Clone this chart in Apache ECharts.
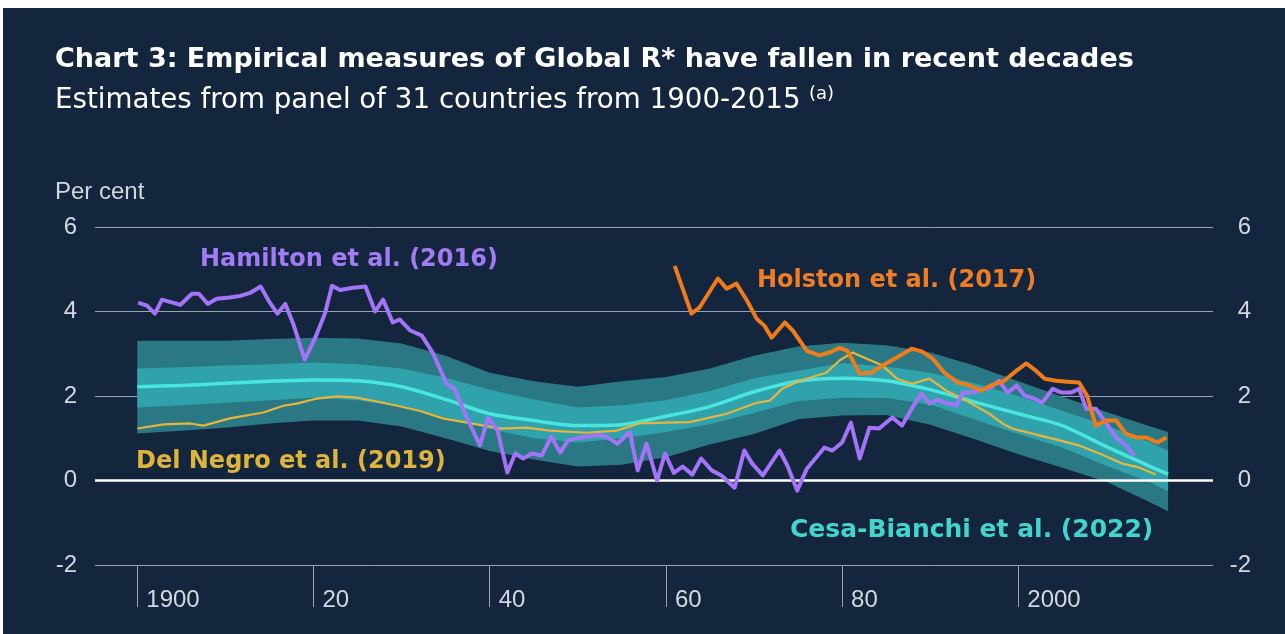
<!DOCTYPE html>
<html>
<head>
<meta charset="utf-8">
<title>Global R* estimates</title>
<script src="https://cdn.jsdelivr.net/npm/echarts@6/dist/echarts.min.js"></script>
<style>
  html, body { margin: 0; padding: 0; background: #fff; }
  #chart { position: absolute; left: 3px; top: 8px; width: 1282px; height: 626px; }
</style>
</head>
<body>
<div id="chart"></div>
<script>
// bottom axis ticks / left+right axis range
var yearTicks = [1900, 1920, 1940, 1960, 1980, 2000];
var yTicks = [-2, 0, 2, 4, 6];

// Cesa-Bianchi et al. (2022): central estimate and two bands
var bandYears = [1900, 1905, 1910, 1915, 1920, 1925, 1930, 1935, 1940, 1945, 1950, 1955, 1960,
  1965, 1970, 1975, 1980, 1985, 1990, 1995, 2000, 2005, 2010, 2015, 2017];
var cesaMid = [2.22, 2.25, 2.3, 2.35, 2.38, 2.36, 2.22, 1.92, 1.58, 1.42, 1.3, 1.32, 1.52,
  1.75, 2.1, 2.35, 2.42, 2.36, 2.15, 1.86, 1.58, 1.3, 0.8, 0.33, 0.15];
var innerHigh = [2.65, 2.68, 2.72, 2.75, 2.79, 2.75, 2.65, 2.43, 2.15, 1.92, 1.73, 1.78, 1.9,
  2.12, 2.42, 2.6, 2.78, 2.7, 2.55, 2.3, 2.0, 1.65, 1.3, 0.9, 0.7];
var innerLow = [1.73, 1.78, 1.84, 1.9, 1.96, 1.9, 1.75, 1.5, 1.22, 1.0, 0.9, 1.0, 1.15,
  1.33, 1.6, 1.88, 1.96, 1.95, 1.8, 1.45, 1.1, 0.78, 0.35, -0.05, -0.25];
var outerHigh = [3.31, 3.31, 3.31, 3.35, 3.38, 3.36, 3.24, 2.95, 2.55, 2.35, 2.22, 2.35, 2.45,
  2.65, 2.95, 3.17, 3.26, 3.2, 3.03, 2.72, 2.35, 1.98, 1.62, 1.28, 1.15];
var outerLow = [1.11, 1.18, 1.25, 1.35, 1.42, 1.42, 1.28, 1.0, 0.7, 0.5, 0.33, 0.37, 0.55,
  0.85, 1.1, 1.45, 1.54, 1.55, 1.32, 0.98, 0.62, 0.3, -0.03, -0.52, -0.73];

// Del Negro et al. (2019)
var delNegro = [[1900, 1.23], [1903, 1.33], [1906, 1.35], [1907.5, 1.3], [1910.5, 1.47], [1914.3, 1.61],
  [1916.6, 1.77], [1918.1, 1.82], [1920.4, 1.94], [1922.7, 1.99], [1924.9, 1.96], [1927.2, 1.87],
  [1929.5, 1.77], [1932, 1.65], [1934.7, 1.47], [1937.4, 1.37], [1941.2, 1.23], [1944.2, 1.25],
  [1946.8, 1.18], [1951, 1.13], [1954.4, 1.18], [1957, 1.35], [1960, 1.37], [1962.7, 1.38],
  [1966.9, 1.58], [1970.3, 1.84], [1971.8, 1.89], [1973.2, 2.17], [1975.2, 2.36], [1978.2, 2.55],
  [1979.7, 2.84], [1981.2, 3.03], [1982.8, 2.88], [1984.6, 2.72], [1986.2, 2.41], [1988, 2.29],
  [1989.9, 2.41], [1991.8, 2.13], [1994.1, 1.89], [1996.7, 1.58], [1998.2, 1.35], [1999.3, 1.23],
  [2001.6, 1.11], [2003.9, 0.99], [2006.9, 0.83], [2009.2, 0.64], [2011.8, 0.4], [2013.7, 0.31],
  [2015.6, 0.14]];

// Hamilton et al. (2016)
var hamilton = [[1900.1, 4.21], [1901.1, 4.14], [1902, 3.95], [1902.8, 4.28], [1904, 4.21], [1904.9, 4.16],
  [1906.2, 4.42], [1907, 4.42], [1908, 4.18], [1909, 4.3], [1910.5, 4.33], [1911.7, 4.37], [1912.8, 4.44],
  [1914, 4.59], [1914.9, 4.26], [1915.9, 3.95], [1916.8, 4.18], [1917.7, 3.71], [1919, 2.86], [1920.2, 3.38],
  [1921.3, 3.95], [1922.1, 4.61], [1923, 4.51], [1924.5, 4.56], [1925.9, 4.59], [1927, 4.0], [1927.9, 4.28],
  [1929, 3.74], [1929.8, 3.81], [1931, 3.55], [1932.3, 3.43], [1933.6, 3.0], [1935.1, 2.29], [1936, 2.17],
  [1937.4, 1.49], [1938.9, 0.83], [1939.8, 1.49], [1940.9, 1.18], [1942, 0.19], [1942.9, 0.64], [1943.8, 0.52],
  [1944.8, 0.64], [1945.9, 0.59], [1947, 1.04], [1948, 0.66], [1948.9, 0.95], [1950.2, 1.02], [1951.5, 1.05],
  [1952.5, 1.08], [1953.4, 1.02], [1954.5, 0.87], [1955.9, 1.15], [1956.8, 0.24], [1957.8, 0.87], [1959, 0.0],
  [1959.9, 0.64], [1960.9, 0.18], [1961.9, 0.33], [1963, 0.14], [1964, 0.52], [1965.2, 0.24], [1966.3, 0.12],
  [1967.8, -0.17], [1968.9, 0.71], [1969.8, 0.4], [1971, 0.12], [1972.9, 0.71], [1973.8, 0.35], [1974.9, -0.24],
  [1976, 0.28], [1978, 0.78], [1978.9, 0.71], [1980, 0.9], [1981, 1.37], [1982, 0.52], [1983.1, 1.25],
  [1984.2, 1.23], [1985.7, 1.49], [1986.8, 1.3], [1987.9, 1.7], [1989, 2.06], [1989.9, 1.82], [1990.8, 1.91],
  [1991.8, 1.84], [1993, 1.77], [1993.7, 2.08], [1994.8, 2.08], [1995.9, 2.15], [1996.9, 2.2], [1997.8, 2.36],
  [1998.8, 2.08], [1999.8, 2.25], [2000.7, 2.01], [2001.8, 1.94], [2002.7, 1.84], [2003.9, 2.17], [2004.9, 2.08],
  [2006, 2.08], [2006.9, 2.17], [2007.7, 1.7], [2008.8, 1.7], [2010, 1.35], [2011.1, 1.02], [2012.2, 0.83],
  [2013.2, 0.59]];

// Holston et al. (2017)
var holston = [[1961, 5.08], [1962.9, 3.95], [1963.8, 4.09], [1965.9, 4.78], [1966.9, 4.54], [1968, 4.66],
  [1969.2, 4.26], [1970.3, 3.83], [1971.2, 3.66], [1972, 3.38], [1973.5, 3.74], [1974.4, 3.55], [1976, 3.07],
  [1977.4, 2.96], [1978.6, 3.03], [1979.7, 3.14], [1980.6, 3.07], [1982, 2.53], [1983.3, 2.55], [1984.6, 2.72],
  [1986.2, 2.91], [1987.9, 3.12], [1989.1, 3.05], [1990.3, 2.88], [1991.6, 2.55], [1993.1, 2.32], [1994.2, 2.27],
  [1995.8, 2.13], [1996.9, 2.25], [1998.4, 2.36], [1999.8, 2.6], [2000.9, 2.77], [2002, 2.6], [2003, 2.41],
  [2004.3, 2.36], [2005.6, 2.34], [2006.9, 2.32], [2007.8, 2.01], [2008.8, 1.3], [2010, 1.42], [2011.1, 1.42],
  [2012.2, 1.11], [2013.4, 1.02], [2014.5, 1.02], [2015.8, 0.9], [2016.8, 1.02]];

var bg = '#14253e';
var axisText = '#d3d8e0';
var gridGrey = '#9aa3b1';

function pairs(xs, ys) {
  return xs.map(function (x, i) { return [x, ys[i]]; });
}

// band as one filled polygon: along the top edge, back along the bottom edge
function bandSeries(high, low, color, z) {
  return {
    type: 'custom',
    silent: true,
    z: z,
    data: [[bandYears[0], high[0]]],
    renderItem: function (params, api) {
      var pts = [];
      for (var i = 0; i < bandYears.length; i++) pts.push(api.coord([bandYears[i], high[i]]));
      for (var j = bandYears.length - 1; j >= 0; j--) pts.push(api.coord([bandYears[j], low[j]]));
      return { type: 'polygon', shape: { points: pts }, style: { fill: color } };
    }
  };
}

function label(text, x, y, color, size) {
  return {
    type: 'text', x: x, y: y, z: 100,
    style: {
      text: text, fill: color, verticalAlign: 'middle',
      font: 'bold ' + (size || 24) + 'px "DejaVu Sans"'
    }
  };
}

var chart = echarts.init(document.getElementById('chart'));
chart.setOption({
  backgroundColor: bg,
  animation: false,
  grid: { left: 92, right: 72, top: 219, bottom: 69 },
  xAxis: {
    type: 'value',
    min: 1895.2,
    max: 2022.1,
    splitLine: { show: false },
    axisLine: { show: false, onZero: false },
    axisTick: {
      show: true,
      customValues: yearTicks,
      length: 42,
      lineStyle: { color: gridGrey, width: 1 }
    },
    axisLabel: {
      customValues: yearTicks,
      color: axisText,
      fontSize: 24,
      fontFamily: 'Liberation Sans',
      align: 'left',
      verticalAlign: 'middle',
      margin: 35,
      padding: [0, 0, 0, 9],
      formatter: function (v) {
        return (v === 1900 || v === 2000) ? String(v) : String(v % 100);
      }
    }
  },
  yAxis: [{
    type: 'value',
    min: yTicks[0],
    max: yTicks[yTicks.length - 1],
    interval: 2,
    axisLine: { show: false },
    axisTick: { show: false },
    axisLabel: { color: axisText, fontSize: 24, fontFamily: 'Liberation Sans', margin: 18 },
    splitLine: { lineStyle: { color: gridGrey, width: 1 } }
  }, {
    type: 'value',
    position: 'right',
    min: yTicks[0],
    max: yTicks[yTicks.length - 1],
    interval: 2,
    axisLine: { show: false },
    axisTick: { show: false },
    axisLabel: { color: axisText, fontSize: 24, fontFamily: 'Liberation Sans', margin: 38, align: 'right' },
    splitLine: { show: false }
  }],
  series: [
    {
      type: 'line', data: [], z: 1, silent: true,
      markLine: {
        silent: true,
        symbol: 'none',
        label: { show: false },
        lineStyle: { color: '#ffffff', width: 2.5, type: 'solid' },
        data: [{ yAxis: 0 }]
      }
    },
    bandSeries(outerHigh, outerLow, '#2a7883', 2),
    bandSeries(innerHigh, innerLow, '#30a2ac', 3),
    {
      name: 'Cesa-Bianchi et al. (2022)', type: 'line', data: pairs(bandYears, cesaMid),
      symbol: 'none', smooth: 0.25, z: 5,
      lineStyle: { color: '#48e6df', width: 3.5 }
    },
    {
      name: 'Del Negro et al. (2019)', type: 'line', data: delNegro,
      symbol: 'none', z: 6,
      lineStyle: { color: '#e8b53a', width: 2.2 }
    },
    {
      name: 'Hamilton et al. (2016)', type: 'line', data: hamilton,
      symbol: 'none', z: 7,
      lineStyle: { color: '#a374f7', width: 4, join: 'round' }
    },
    {
      name: 'Holston et al. (2017)', type: 'line', data: holston,
      symbol: 'none', z: 8,
      lineStyle: { color: '#f07b1a', width: 4, join: 'round' }
    }
  ],
  graphic: [
    {
      type: 'text', x: 52, y: 52,
      style: { text: 'Chart 3: Empirical measures of Global R* have fallen in recent decades',
        fill: '#ffffff', verticalAlign: 'middle', font: 'bold 27px "DejaVu Sans"' }
    },
    {
      type: 'text', x: 52, y: 93,
      style: { text: 'Estimates from panel of 31 countries from 1900-2015',
        fill: '#ffffff', verticalAlign: 'middle', font: '27.7px "DejaVu Sans"' }
    },
    {
      type: 'text', x: 806, y: 86,
      style: { text: '(a)', fill: '#ffffff', verticalAlign: 'middle', font: '18px "DejaVu Sans"' }
    },
    {
      type: 'text', x: 52, y: 184,
      style: { text: 'Per cent', fill: axisText, verticalAlign: 'middle', font: '24px "Liberation Sans"' }
    },
    label('Hamilton et al. (2016)', 197, 252, '#a27cf4'),
    label('Holston et al. (2017)', 754, 273, '#f07d22'),
    label('Del Negro et al. (2019)', 133, 454, '#ddb43c'),
    label('Cesa-Bianchi et al. (2022)', 787, 522, '#40d6ce', 25)
  ]
});
</script>
</body>
</html>
